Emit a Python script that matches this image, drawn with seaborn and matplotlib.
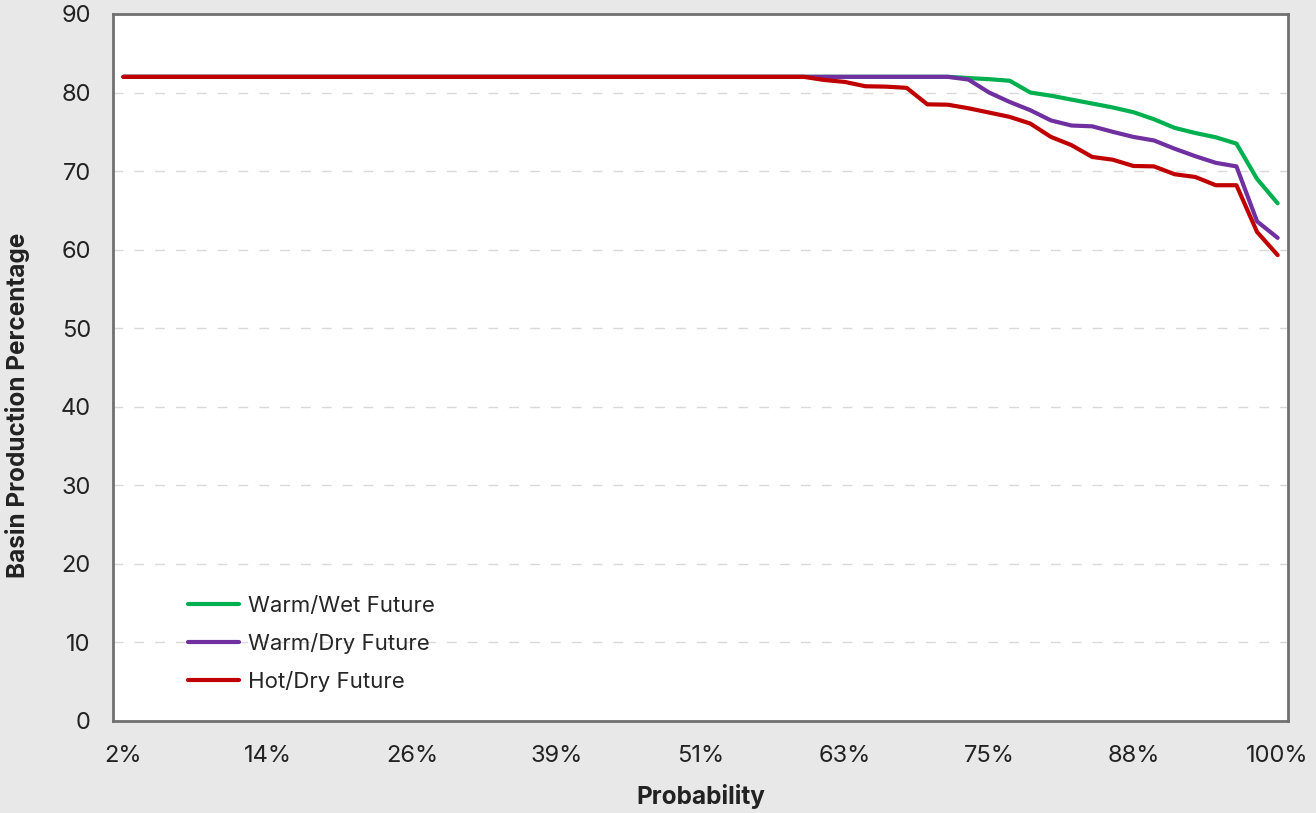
import pandas as pd
import seaborn as sns
import matplotlib.pyplot as plt

# 57 probability steps, label shown every 7th step
prob_labels = ['2%', '14%', '26%', '39%', '51%', '63%', '75%', '88%', '100%']
label_steps = [0, 7, 14, 21, 28, 35, 42, 49, 56]

warm_wet = [82, 82, 82, 82, 82, 82, 82, 82, 82, 82,
            82, 82, 82, 82, 82, 82, 82, 82, 82, 82,
            82, 82, 82, 82, 82, 82, 82, 82, 82, 82,
            82, 82, 82, 82, 82, 82, 82, 82, 82, 82,
            82, 81.85, 81.7, 81.5, 80.0, 79.6, 79.1, 78.6, 78.1, 77.5,
            76.6, 75.5, 74.85, 74.3, 73.5, 69.0, 65.9]

warm_dry = [82, 82, 82, 82, 82, 82, 82, 82, 82, 82,
            82, 82, 82, 82, 82, 82, 82, 82, 82, 82,
            82, 82, 82, 82, 82, 82, 82, 82, 82, 82,
            82, 82, 82, 82, 82, 82, 82, 82, 82, 82,
            82, 81.65, 80.0, 78.8, 77.75, 76.45, 75.8, 75.7, 75.0, 74.35,
            73.9, 72.85, 71.9, 71.05, 70.6, 63.6, 61.5]

hot_dry = [82, 82, 82, 82, 82, 82, 82, 82, 82, 82,
           82, 82, 82, 82, 82, 82, 82, 82, 82, 82,
           82, 82, 82, 82, 82, 82, 82, 82, 82, 82,
           82, 82, 82, 82, 81.6, 81.35, 80.8, 80.75, 80.6, 78.5,
           78.45, 78.0, 77.45, 76.9, 76.05, 74.35, 73.3, 71.8, 71.45, 70.65,
           70.6, 69.6, 69.25, 68.2, 68.2, 62.25, 59.3]

series_names = ['Warm/Wet Future', 'Warm/Dry Future', 'Hot/Dry Future']
series_colors = ['#00b050', '#7030a0', '#c00000']

frames = []
for name, vals in zip(series_names, [warm_wet, warm_dry, hot_dry]):
    frames.append(pd.DataFrame({'step': range(len(vals)), 'value': vals, 'scenario': name}))
df = pd.concat(frames, ignore_index=True)

sns.set_style('white')
plt.rcParams['font.family'] = ['Inter', 'DejaVu Sans']

fig = plt.figure(figsize=(13.16, 8.13), dpi=100, facecolor='#e8e8e8')
ax = fig.add_axes([0.0859, 0.1132, 0.8928, 0.8696])
ax.set_facecolor('white')

sns.lineplot(data=df, x='step', y='value', hue='scenario', hue_order=series_names,
             palette=series_colors, linewidth=3.0, ax=ax, legend=True)

ax.set_xlim(-0.5, 56.5)
ax.set_ylim(0, 90)
ax.set_yticks(range(0, 91, 10))
ax.set_xticks(label_steps)
ax.set_xticklabels(prob_labels)
ax.tick_params(axis='both', length=0, labelsize=17, colors='#222222')
ax.tick_params(axis='x', pad=17)
ax.tick_params(axis='y', pad=16)

for v in range(10, 90, 10):
    ax.axhline(v, color='#d9d9d9', linewidth=1, linestyle=(0, (7, 8)), zorder=0)

for s in ax.spines.values():
    s.set_color('#707070')
    s.set_linewidth(2)

ax.set_xlabel('Probability', fontsize=17.5, fontweight='bold', color='#222222')
ax.set_ylabel('Basin Production Percentage', fontsize=17.5, fontweight='bold', color='#222222')
ax.xaxis.set_label_coords(0.5, -0.1075)
ax.xaxis.label.set_va('center')
ax.yaxis.set_label_coords(-0.0817, 0.447)
ax.yaxis.label.set_va('center')

ax.legend(loc='center left', bbox_to_anchor=(0.064, 0.109), frameon=False,
          fontsize=16, handlelength=2.3, handletextpad=0.4, labelspacing=0.78,
          borderpad=0, borderaxespad=0)

fig.savefig('out.png', dpi=100, facecolor=fig.get_facecolor())
